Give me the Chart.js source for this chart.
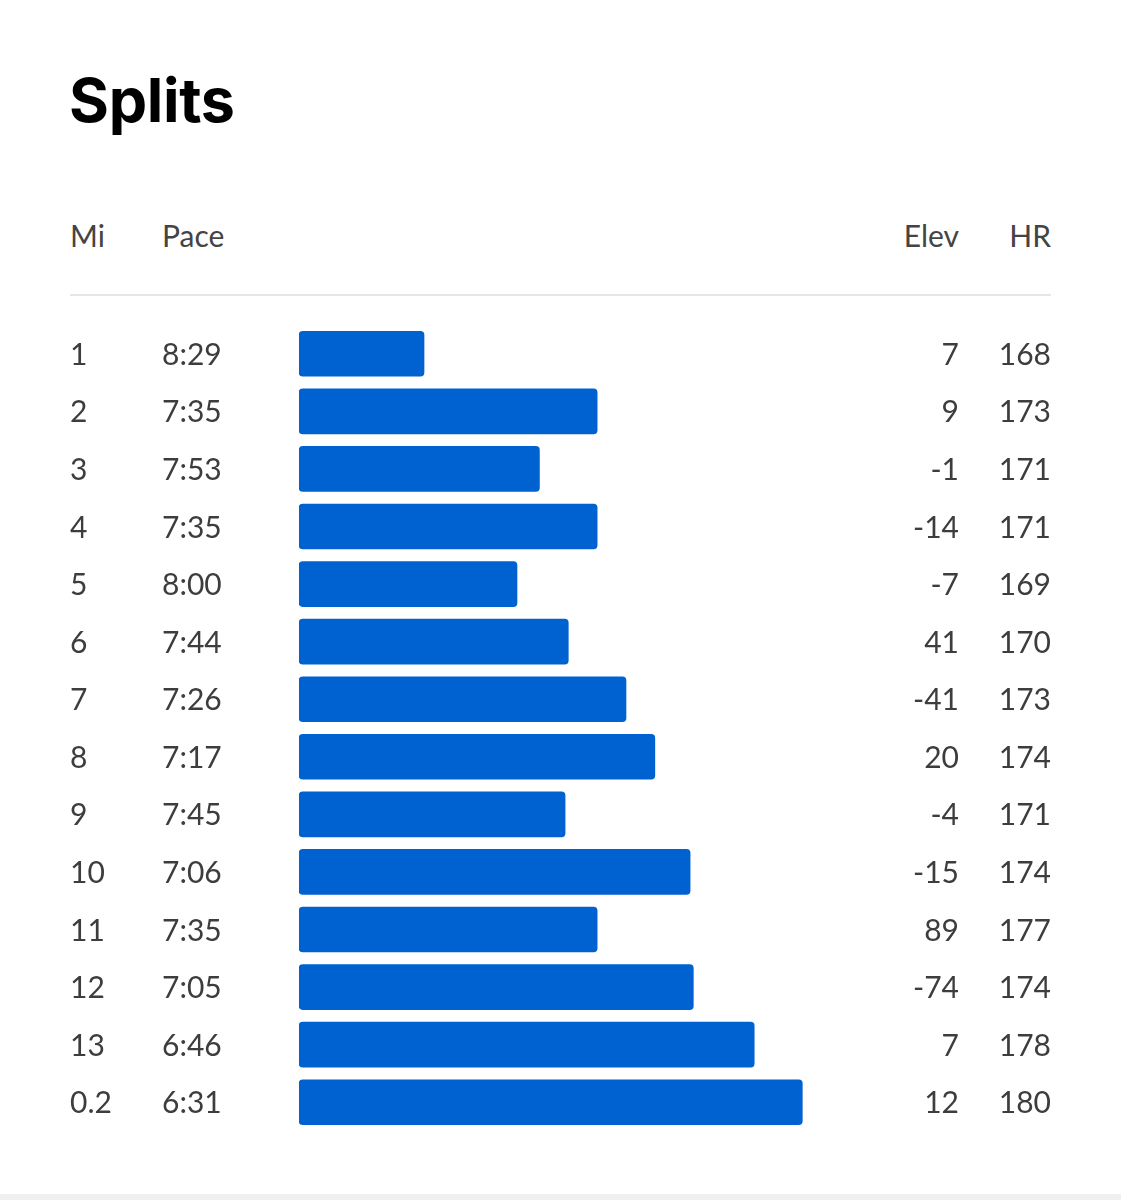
<!DOCTYPE html>
<html>
<head>
<meta charset="utf-8">
<title>Splits</title>
<script src="https://cdn.jsdelivr.net/npm/chart.js@4"></script>
<style>
  html, body { margin: 0; padding: 0; background: #fff; }
  body { width: 1121px; height: 1200px; position: relative; overflow: hidden; font-family: Lato, "Open Sans", sans-serif; color: #3d3d3d; }
  h1 { position: absolute; left: 69px; top: 63px; margin: 0; font-family: Inter, Roboto, sans-serif; font-weight: 700; font-size: 61px; letter-spacing: -0.3px; color: #000; }
  .hd { position: absolute; top: 217px; font-size: 30px; color: #444; }
  .rule { position: absolute; left: 70px; top: 294px; width: 981px; height: 2px; background: #e6e6e6; }
  .foot { position: absolute; left: 0; top: 1194px; width: 1121px; height: 6px; background: #f0f0ee; }
  #wrap { position: absolute; left: 0; top: 300px; width: 1121px; height: 860px; }
</style>
</head>
<body>
<h1>Splits</h1>
<div class="hd" style="left:70px">Mi</div>
<div class="hd" style="left:162px">Pace</div>
<div class="hd" style="right:162px">Elev</div>
<div class="hd" style="right:70px">HR</div>
<div class="rule"></div>
<div id="wrap"><canvas id="chartSplits"></canvas></div>
<div class="foot"></div>
<script>
// split data
const miles = ['1', '2', '3', '4', '5', '6', '7', '8', '9', '10', '11', '12', '13', '0.2'];
const paces = ['8:29', '7:35', '7:53', '7:35', '8:00', '7:44', '7:26', '7:17', '7:45', '7:06', '7:35', '7:05', '6:46', '6:31'];
const elev = [7, 9, -1, -14, -7, 41, -41, 20, -4, -15, 89, -74, 7, 12];
const hr = [168, 173, 171, 171, 169, 170, 173, 174, 171, 174, 177, 174, 178, 180];

// pace in seconds, faster = longer bar
const paceSec = paces.map(function (p) {
  const parts = p.split(':');
  return parseInt(parts[0]) * 60 + parseInt(parts[1]);
});

const rowText = {
  id: 'rowText',
  afterDatasetsDraw(chart) {
    const ctx = chart.ctx;
    const y = chart.scales.y;
    ctx.save();
    ctx.font = '30px Lato, "Open Sans", sans-serif';
    ctx.fillStyle = '#3d3d3d';
    ctx.textBaseline = 'alphabetic';
    miles.forEach(function (m, i) {
      const yy = y.getPixelForValue(i) + 11;
      ctx.textAlign = 'left';
      ctx.fillText(m, 70, yy);
      ctx.fillText(paces[i], 162, yy);
      ctx.textAlign = 'right';
      ctx.fillText(String(elev[i]), 959, yy);
      ctx.fillText(String(hr[i]), 1051, yy);
    });
    ctx.restore();
  }
};

const data = {
  labels: miles,
  datasets: [{
    label: 'Pace',
    data: paceSec,
    base: 548,
    backgroundColor: '#0061d0',
    borderRadius: 4,
    borderSkipped: false,
    barThickness: 45
  }]
};

const config = {
  type: 'bar',
  data: data,
  options: {
    indexAxis: 'y',
    responsive: true,
    maintainAspectRatio: false,
    animation: false,
    layout: {
      padding: { left: 299, right: 261, top: 25, bottom: 29 }
    },
    scales: {
      x: { display: false, reverse: true, min: 373, max: 548 },
      y: { display: false }
    },
    plugins: {
      legend: { display: false },
      tooltip: { enabled: false }
    }
  },
  plugins: [rowText]
};

const chartSplits = new Chart(document.getElementById('chartSplits'), config);
</script>
</body>
</html>
